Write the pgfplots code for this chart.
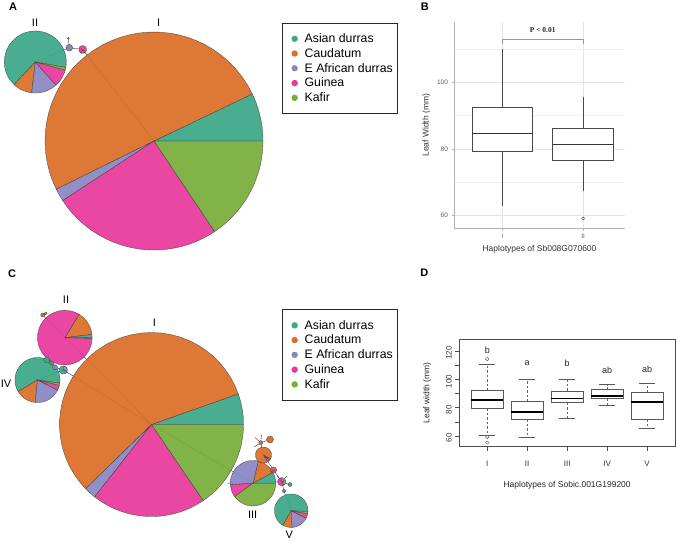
\documentclass[border=0pt]{standalone}
\usepackage{fontspec}
\setmainfont{Liberation Sans}
\newfontfamily\pfont{Liberation Serif}
\usepackage{pgfplots}
\pgfplotsset{compat=1.18}

\definecolor{cAs}{HTML}{3BA886}
\definecolor{cCa}{HTML}{DC6E27}
\definecolor{cEA}{HTML}{8A86C3}
\definecolor{cGu}{HTML}{E7399A}
\definecolor{cKa}{HTML}{78AD3A}

% pie: centre x, centre y, radius, start angle, {share in %/colour,...}
\newcommand\pie[5]{%
  \pgfmathsetmacro\pa{#4}\global\let\pa\pa
  \foreach \s/\c in {#5}{%
    \pgfmathsetmacro\pb{\pa+3.6*\s}%
    \edef\tmp{\noexpand\addplot[forget plot, fill=\c, draw=black!75, line width=0.3pt,
      fill opacity=0.93, domain=\pa:\pb, samples=36]
      ({#1+#3*cos(x)},{#2-#3*sin(x)}) -- (axis cs:#1,#2) -- cycle;}%
    \tmp
    \global\let\pa\pb
  }%
}
% single-colour haplotype node
\newcommand\hnode[4]{%
  \addplot[forget plot, only marks, mark=*, mark size=#3pt,
    mark options={fill=#4, draw=black!75, line width=0.3pt}] coordinates {(#1,#2)};}

% box: position, half width, cap half width, lower whisker, lower quartile, median, upper quartile, upper whisker
\newcommand\bx[8]{%
  \pgfmathsetmacro\bxl{#1-#2}\pgfmathsetmacro\bxr{#1+#2}%
  \pgfmathsetmacro\cpl{#1-#3}\pgfmathsetmacro\cpr{#1+#3}%
  \edef\tmp{%
    \noexpand\addplot[bxwhisk] coordinates {(#1,#5) (#1,#4)};
    \noexpand\addplot[bxwhisk] coordinates {(#1,#7) (#1,#8)};
    \noexpand\addplot[bxcap] coordinates {(\cpl,#4) (\cpr,#4)};
    \noexpand\addplot[bxcap] coordinates {(\cpl,#8) (\cpr,#8)};
    \noexpand\addplot[bxbox] coordinates {(\bxl,#5) (\bxr,#5) (\bxr,#7) (\bxl,#7)} -- cycle;
    \noexpand\addplot[bxmed] coordinates {(\bxl,#6) (\bxr,#6)};}%
  \tmp}

\pgfplotsset{
  canvas/.style={hide axis, scale only axis, clip=false, width=676pt, height=271pt,
    xmin=0, xmax=676, y dir=reverse,
    legend style={draw=black!85, line width=0.7pt, font=\fontsize{12.3}{14.8}\selectfont,
      inner xsep=3pt, inner ysep=8.5pt, row sep=0.35pt, cells={anchor=west}},
    legend image code/.code={\path[draw=none, fill=none] (-9pt,0pt) -- (8pt,0pt);
      \fill (0pt,0pt) circle (2.8pt);}},
  link/.style={forget plot, black!80, line width=0.4pt},
}
\tikzset{
  lab/.style={font=\fontsize{11}{13}\selectfont},
  panel/.style={font=\bfseries\fontsize{11}{13}\selectfont},
}

\begin{document}
\begin{tikzpicture}
\path[use as bounding box] (0,0) rectangle (676pt,542pt);

% ---------------- A ----------------
\begin{axis}[canvas, ymin=0, ymax=271, at={(0pt,271pt)}, anchor=south west,
  legend style={at={(0.4176,0.9162)}, anchor=north west}]
\addplot[link] coordinates {(35.3,62) (69.3,47.7) (82.7,49.5) (154,141)};
\addplot[link] coordinates {(69.3,47.7) (68.3,38.3)};
\pie{154}{141}{109}{0}{7.1/cAs, 50.2/cCa, 1.9/cEA, 25.2/cGu, 15.6/cKa}
\pie{35.3}{62}{31}{350}{65.8/cAs, 10.1/cCa, 13.5/cEA, 9.2/cGu, 1.4/cKa}
\hnode{69.3}{47.7}{3.4}{cEA}
\hnode{68.3}{38.3}{1}{cEA}
\pie{82.7}{49.5}{3.8}{300}{85/cGu, 15/cCa}
\node[lab] at (axis cs:35,22.5) {II};
\node[lab] at (axis cs:158.7,22.5) {I};
\node[panel] at (axis cs:13,7) {A};
\addlegendimage{color=cAs}\addlegendentry{Asian durras}
\addlegendimage{color=cCa}\addlegendentry{Caudatum}
\addlegendimage{color=cEA}\addlegendentry{E African durras}
\addlegendimage{color=cGu}\addlegendentry{Guinea}
\addlegendimage{color=cKa}\addlegendentry{Kafir}
\end{axis}

% ---------------- C ----------------
\begin{axis}[canvas, ymin=271, ymax=542, at={(0pt,0pt)}, anchor=south west,
  legend style={at={(0.4176,0.8587)}, anchor=north west}]
\addplot[link] coordinates {(151.5,424.5) (64.8,337.6) (42.7,315) (45.7,313.3)};
\addplot[link] coordinates {(151.5,424.5) (63.3,370) (55,367.3) (51.5,363) (46.7,360) (50,352)};
\addplot[link] coordinates {(63.3,370) (37.5,380)};
\addplot[link] coordinates {(151.5,424.5) (253,483.2)};
\addplot[link] coordinates {(227.5,483.2) (281.7,481.7) (290,484.5)};
\addplot[link] coordinates {(281.7,481.7) (284,491) (291.2,510.7)};
\addplot[link] coordinates {(253,483.2) (263.5,455) (260.7,442.7) (270,439.5)};
\addplot[link] coordinates {(260.7,442.7) (255,437.5)};
\addplot[link] coordinates {(260.7,442.7) (261.5,434.5)};
\addplot[link] coordinates {(260.7,442.7) (254,447)};
\addplot[link] coordinates {(263.5,455) (273.5,470) (281.7,481.7)};
\addplot[link] coordinates {(281.7,481.7) (277,475.5)};
\addplot[link] coordinates {(281.7,481.7) (287,476)};
\pie{151.5}{424.5}{92}{0}{5.4/cAs, 56.9/cCa, 2.1/cEA, 20.1/cGu, 15.5/cKa}
\pie{37.5}{380}{22.5}{352}{60.8/cAs, 14.8/cCa, 19.2/cEA, 3.6/cGu, 1.6/cKa}
\pie{64.8}{337.6}{27.3}{6.5}{14.4/cCa, 83.4/cGu, 0.5/cKa, 1.7/cAs}
\pie{253}{483.2}{22.7}{0}{8/cAs, 13.2/cCa, 29.9/cEA, 8.9/cGu, 40/cKa}
\pie{291.2}{510.7}{16.7}{357}{67.4/cAs, 9.3/cCa, 16.7/cEA, 4.4/cGu, 2.2/cKa}
\pie{263.5}{455}{8}{300}{6/cGu, 3/cKa, 91/cCa}
\pie{273.5}{470}{3}{0}{60/cCa, 40/cGu}
\pie{281.7}{481.7}{4}{90}{60/cGu, 20/cKa, 20/cEA}
\pie{63.3}{370}{4}{90}{70/cAs, 30/cEA}
\hnode{290}{484.5}{2}{cAs}
\hnode{284}{491}{1.8}{cEA}
\hnode{260.7}{442.7}{2}{cCa}
\hnode{270}{439.5}{3.5}{cCa}
\hnode{46.7}{360}{3}{cAs}
\hnode{51.5}{363}{2}{cAs}
\hnode{55}{367.3}{2.5}{cEA}
\hnode{42.7}{315}{2}{cCa}
\hnode{45.7}{313.3}{1.5}{cKa}
\node[lab] at (axis cs:66,300) {II};
\node[lab] at (axis cs:154.3,322.7) {I};
\node[lab] at (axis cs:6,383.3) {IV};
\node[lab] at (axis cs:252.7,515) {III};
\node[lab] at (axis cs:289.3,535) {V};
\node[panel] at (axis cs:12,273.5) {C};
\addlegendimage{color=cAs}\addlegendentry{Asian durras}
\addlegendimage{color=cCa}\addlegendentry{Caudatum}
\addlegendimage{color=cEA}\addlegendentry{E African durras}
\addlegendimage{color=cGu}\addlegendentry{Guinea}
\addlegendimage{color=cKa}\addlegendentry{Kafir}
\end{axis}

% ---------------- B ----------------
\begin{axis}[at={(454pt,313.7pt)}, anchor=south west, scale only axis,
  width=171pt, height=206.3pt, clip=false,
  xmin=0.4, xmax=2.52, ymin=56.2, ymax=118.1,
  axis x line*=bottom, axis y line*=left,
  axis line style={gray!60, line width=0.5pt},
  xtick={1,2}, xticklabels={I,II}, ytick={60,80,100}, minor ytick={70,90,110},
  grid=both, major grid style={gray!20, line width=0.5pt},
  minor grid style={gray!11, line width=0.35pt},
  tick align=outside, major tick length=2.5pt, minor tick length=0pt,
  tick style={gray!60, line width=0.5pt},
  tick label style={font=\fontsize{6.5}{8}\selectfont, text=black!65},
  /pgf/number format/assume math mode=true,
  xlabel={Haplotypes of Sb008G070600}, ylabel={Leaf Width (mm)},
  label style={font=\fontsize{8.5}{10}\selectfont, text=black!80},
  bxbox/.style={draw=black!72, line width=0.7pt, fill=white},
  bxwhisk/.style={black!72, line width=0.7pt},
  bxcap/.style={draw=none},
  bxmed/.style={black!80, line width=1.1pt},
]
\bx{1}{0.375}{0}{63}{79.2}{84.7}{92.5}{109.9}
\bx{2}{0.375}{0}{67.5}{76.7}{81.4}{86.2}{95.7}
\addplot[only marks, mark=o, mark size=1.5pt, black!75] coordinates {(2,59.2)};
\addplot[gray!80, line width=0.5pt] coordinates {(1,111.5) (1,113) (2,113) (2,111.5)};
\node[font=\pfont\bfseries\fontsize{7.5}{9}\selectfont, text=black!85] at (axis cs:1.5,115.6) {P < 0.01};
\node[panel] at (rel axis cs:-0.17,1.072) {B};
\end{axis}

% ---------------- D ----------------
\begin{axis}[at={(459.3pt,95.3pt)}, anchor=south west, scale only axis,
  width=215.7pt, height=107.7pt, clip=false,
  xmin=0.3, xmax=5.7, ymin=52.4, ymax=128.5,
  axis line style={black!70, line width=0.6pt},
  xtick={1,...,5}, xticklabels={I,II,III,IV,V},
  ytick={60,70,...,120}, yticklabels={60,,80,,100,,120},
  tick pos=left, tick align=outside, major tick length=4pt,
  tick style={black!70, line width=0.5pt},
  tick label style={font=\fontsize{8}{9}\selectfont, text=black!80},
  yticklabel style={rotate=90, anchor=south, xshift=-2pt},
  xticklabel style={yshift=-7pt},
  /pgf/number format/assume math mode=true,
  xlabel={Haplotypes of Sobic.001G199200}, ylabel={Leaf width (mm)},
  label style={font=\fontsize{8.5}{10}\selectfont, text=black!85},
  xlabel style={yshift=-8pt}, ylabel style={yshift=8pt},
  bxbox/.style={draw=black!65, line width=0.6pt, fill=white},
  bxwhisk/.style={black!60, line width=0.6pt, dash pattern=on 2.5pt off 2pt},
  bxcap/.style={black!65, line width=0.6pt},
  bxmed/.style={black, line width=1.6pt},
]
\bx{1}{0.4}{0.2}{60.8}{79.6}{85.2}{92}{110.8}
\bx{2}{0.4}{0.2}{58.8}{71.8}{77}{84.2}{100.2}
\bx{3}{0.4}{0.2}{72.5}{83.5}{86.6}{91.8}{100}
\bx{4}{0.4}{0.2}{81.9}{86.6}{88.2}{93}{96.2}
\bx{5}{0.4}{0.2}{65.2}{71.8}{83.8}{90.6}{97.2}
\addplot[only marks, mark=o, mark size=1.8pt, black!65] coordinates {(1,114.4) (1,59.3) (1,55.3)};
\addplot[only marks, mark=none, nodes near coords, point meta=explicit symbolic,
  nodes near coords style={font=\fontsize{9}{10}\selectfont, text=black!85, anchor=center}]
  coordinates {(1,120.7)[b] (2,111.3)[a] (3,111.3)[b] (4,106.6)[ab] (5,107.3)[ab]};
\node[panel] at (rel axis cs:-0.162,1.615) {D};
\end{axis}
\end{tikzpicture}
\end{document}
